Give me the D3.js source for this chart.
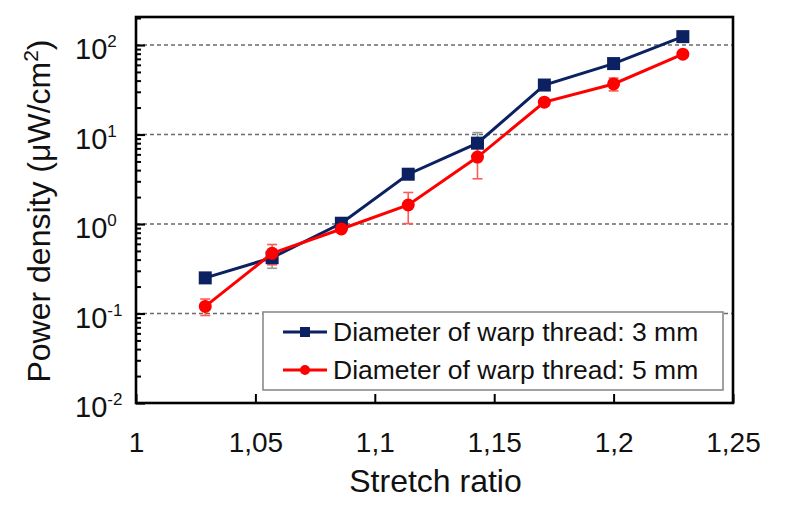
<!DOCTYPE html>
<html>
<head>
<meta charset="utf-8">
<script src="https://cdn.jsdelivr.net/npm/d3@7"></script>
<style>
  html, body { margin: 0; padding: 0; background: #fff; }
  svg { display: block; font-family: "Liberation Sans", Arial, sans-serif; }
</style>
</head>
<body>
<svg id="chart" width="787" height="505"></svg>
<script>
// ---- data ----
const stretchRatio = [1.029, 1.057, 1.086, 1.114, 1.143, 1.171, 1.2, 1.229];
const power3mm = [0.25, 0.42, 1.02, 3.6, 8.0, 35.7, 62, 124];
const err3mm   = [0.02, 0.10, 0.05, 0.3, 2.5, 3, 5, 8];
const power5mm = [0.12, 0.47, 0.88, 1.63, 5.6, 23, 36.7, 79];
const err5mm   = [0.025, 0.12, 0.05, 0.62, 2.4, 2, 6, 5];
const seriesNames = ["Diameter of warp thread: 3 mm", "Diameter of warp thread: 5 mm"];
const xTicks = [1, 1.05, 1.1, 1.15, 1.2, 1.25];
const xTickLabels = ["1", "1,05", "1,1", "1,15", "1,2", "1,25"];
const yExponents = [-2, -1, 0, 1, 2];
const xTitle = "Stretch ratio";

// ---- layout ----
const svg = d3.select("#chart");
const L = 136, R = 733, T = 17, B = 403;
const x = d3.scaleLinear().domain([1, 1.25]).range([L, R]);
const y = d3.scaleLog().domain([0.01, Math.pow(10, 2 + 28 / 89.5)]).range([B, T]);

// gridlines
svg.append("g").selectAll("line")
  .data(yExponents.filter(e => e > -2))
  .join("line")
  .attr("x1", L).attr("x2", R)
  .attr("y1", e => y(Math.pow(10, e))).attr("y2", e => y(Math.pow(10, e)))
  .attr("stroke", "#6a6a6a").attr("stroke-width", 1.6)
  .attr("stroke-dasharray", "4,3");

// minor y ticks
const minor = [];
for (let e = -2; e <= 2; e++) for (let m = 2; m <= 9; m++) {
  const v = m * Math.pow(10, e);
  if (v < y.domain()[1]) minor.push(v);
}
svg.append("g").attr("transform", `translate(${L},0)`)
  .call(d3.axisLeft(y).tickValues(minor).tickSize(-5).tickFormat(""))
  .call(g => g.select(".domain").remove())
  .call(g => g.selectAll("line").attr("stroke", "#000").attr("stroke-width", 2));

// major y ticks with labels
const yAxis = svg.append("g").attr("transform", `translate(${L},0)`)
  .call(d3.axisLeft(y).tickValues(yExponents.map(e => Math.pow(10, e))).tickSize(-9).tickFormat(""))
  .call(g => g.select(".domain").remove())
  .call(g => g.selectAll("line").attr("stroke", "#000").attr("stroke-width", 2.2));
yAxis.selectAll(".tick text").remove();
yAxis.selectAll(".tick").append("text")
  .attr("x", -61).attr("y", 0).attr("dy", 13.5)
  .attr("text-anchor", "start").attr("fill", "#111")
  .attr("font-size", 29)
  .each(function(d) {
    const t = d3.select(this);
    t.append("tspan").text("10");
    t.append("tspan").attr("font-size", 17).attr("dy", -12)
      .text(String(Math.round(Math.log10(d))));
  });

// x axis
svg.append("g").attr("transform", `translate(0,${B})`)
  .call(d3.axisBottom(x).tickValues(xTicks).tickSize(-9).tickPadding(29)
    .tickFormat((d, i) => xTickLabels[i]))
  .call(g => g.select(".domain").remove())
  .call(g => g.selectAll("line").attr("stroke", "#000").attr("stroke-width", 2))
  .call(g => g.selectAll("text").attr("font-size", 28).attr("fill", "#111")
    .attr("font-family", "Liberation Sans, Arial, sans-serif"));

// frame
svg.append("rect").attr("x", L).attr("y", T).attr("width", R - L).attr("height", B - T)
  .attr("fill", "none").attr("stroke", "#000").attr("stroke-width", 2.6);

// series
const series = [
  { vals: power3mm, err: err3mm, color: "#0b2161", errColor: "#9a9a9a", shape: "square" },
  { vals: power5mm, err: err5mm, color: "#ff0000", errColor: "#ff5a5a", shape: "circle" }
];

// error bars (drawn first)
series.forEach(s => {
  const g = svg.append("g").attr("stroke", s.errColor).attr("stroke-width", 1.6);
  stretchRatio.forEach((xv, i) => {
    const lo = y(Math.max(s.vals[i] - s.err[i], 0.011)), hi = y(s.vals[i] + s.err[i]);
    const cx = x(xv);
    g.append("line").attr("x1", cx).attr("x2", cx).attr("y1", lo).attr("y2", hi);
    g.append("line").attr("x1", cx - 5).attr("x2", cx + 5).attr("y1", lo).attr("y2", lo);
    g.append("line").attr("x1", cx - 5).attr("x2", cx + 5).attr("y1", hi).attr("y2", hi);
  });
});

const line = d3.line().x(d => x(d[0])).y(d => y(d[1]));
series.forEach(s => {
  const pts = stretchRatio.map((xv, i) => [xv, s.vals[i]]);
  svg.append("path").datum(pts).attr("d", line)
    .attr("fill", "none").attr("stroke", s.color).attr("stroke-width", 3);
  if (s.shape === "square") {
    svg.append("g").selectAll("rect").data(pts).join("rect")
      .attr("x", d => x(d[0]) - 6.5).attr("y", d => y(d[1]) - 6.5)
      .attr("width", 13).attr("height", 13).attr("fill", s.color);
  } else {
    svg.append("g").selectAll("circle").data(pts).join("circle")
      .attr("cx", d => x(d[0])).attr("cy", d => y(d[1])).attr("r", 6.5)
      .attr("fill", s.color);
  }
});

// legend
const lg = svg.append("g");
lg.append("rect").attr("x", 263).attr("y", 312).attr("width", 460).attr("height", 78)
  .attr("fill", "#fff").attr("stroke", "#8a8a8a").attr("stroke-width", 1.6);
series.forEach((s, i) => {
  const ry = 332 + i * 38;
  lg.append("line").attr("x1", 283).attr("x2", 327).attr("y1", ry).attr("y2", ry)
    .attr("stroke", s.color).attr("stroke-width", 3);
  if (s.shape === "square") {
    lg.append("rect").attr("x", 305 - 5).attr("y", ry - 5).attr("width", 10).attr("height", 10).attr("fill", s.color);
  } else {
    lg.append("circle").attr("cx", 305).attr("cy", ry).attr("r", 5).attr("fill", s.color);
  }
  lg.append("text").attr("x", 333).attr("y", ry).attr("dy", 8.5)
    .attr("font-size", 26.5).attr("fill", "#111").text(seriesNames[i]);
});

// axis titles
svg.append("text").attr("x", (L + R) / 2 + 1).attr("y", 492)
  .attr("text-anchor", "middle").attr("font-size", 32).attr("fill", "#111").text(xTitle);

const yt = svg.append("text").attr("transform", "translate(50,211) rotate(-90)")
  .attr("text-anchor", "middle").attr("font-size", 32).attr("fill", "#111");
yt.append("tspan").text("Power density (μW/cm");
yt.append("tspan").attr("font-size", 21).attr("dy", -12).text("2");
yt.append("tspan").attr("dy", 12).text(")");
</script>
</body>
</html>
